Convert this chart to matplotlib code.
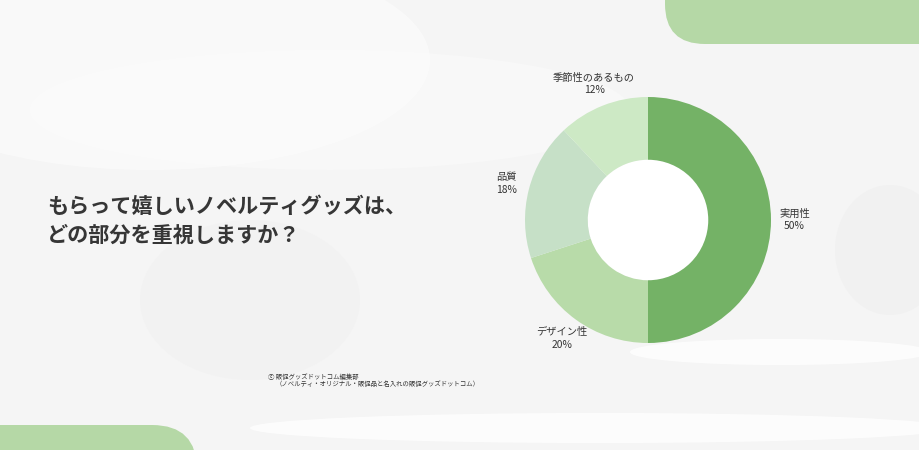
import numpy as np
import matplotlib.pyplot as plt
from matplotlib.patches import FancyBboxPatch, Ellipse, Circle

plt.rcParams['font.family'] = ['Noto Sans CJK JP', 'DejaVu Sans']

# data
labels = ['実用性', 'デザイン性', '品質', '季節性のあるもの']
shares = [50, 20, 18, 12]
colors = ['#74b266', '#b8dba9', '#c6e0c7', '#cde9c5']
title = 'もらって嬉しいノベルティグッズは、\nどの部分を重視しますか？'
credit1 = 'ⓒ 販促グッズドットコム編集部'
credit2 = '（ノベルティ・オリジナル・販促品と名入れの販促グッズドットコム）'

W, H = 920, 450
fig = plt.figure(figsize=(9.2, 4.5), dpi=100)
fig.patch.set_facecolor('#f5f5f5')

# background decoration (soft shapes)
bg = fig.add_axes([0, 0, 1, 1])
bg.set_xlim(0, W)
bg.set_ylim(H, 0)
bg.axis('off')
bg.add_patch(Ellipse((150, 60), 560, 220, color='white', alpha=0.45, lw=0))
bg.add_patch(Ellipse((330, 110), 600, 120, color='white', alpha=0.3, lw=0))
bg.add_patch(Ellipse((250, 300), 220, 160, color='#f1f1f1', alpha=0.7, lw=0))
bg.add_patch(Ellipse((780, 352), 300, 26, color='white', alpha=0.8, lw=0))
bg.add_patch(Ellipse((600, 428), 700, 30, color='white', alpha=0.8, lw=0))
bg.add_patch(Ellipse((890, 250), 110, 130, color='#f0f0f0', alpha=0.8, lw=0))
# green corner shapes
bg.add_patch(FancyBboxPatch((665, -60), 320, 104, boxstyle='round,pad=0,rounding_size=40',
                            color='#b5d8a6', lw=0))
bg.add_patch(FancyBboxPatch((-80, 425), 277, 80, boxstyle='round,pad=0,rounding_size=45',
                            color='#b5d8a6', lw=0))

bg.text(47, 221, title, fontsize=15.2, fontweight='bold', color='#363636',
        va='center', ha='left', linespacing=1.5)
bg.text(268, 377, credit1, fontsize=4.6, color='#333333', va='center', ha='left')
bg.text(276, 384, credit2, fontsize=4.6, color='#333333', va='center', ha='left')

# donut
cx, cy, r = 648, 220, 123
ax = fig.add_axes([(cx - r) / W, (H - cy - r) / H, 2 * r / W, 2 * r / H])
ax.add_patch(Circle((0, 0), 0.49, color='white', lw=0))
ax.pie(shares, colors=colors, startangle=90, counterclock=False, radius=1,
       wedgeprops=dict(width=0.51, edgecolor='none'))
ax.set_xlim(-1, 1)
ax.set_ylim(-1, 1)
ax.set_aspect('equal')
ax.axis('off')

cum = np.cumsum([0] + shares)
for i, lab in enumerate(labels):
    mid = (cum[i] + cum[i + 1]) / 2 / sum(shares)
    ang = np.deg2rad(90 - mid * 360)
    ax.text(1.19 * np.cos(ang), 1.19 * np.sin(ang), f'{lab}\n{shares[i]}%',
            ha='center', va='center', fontsize=7.4, color='#333333',
            linespacing=1.3, clip_on=False)

fig.savefig('out.png', dpi=100, facecolor=fig.get_facecolor())
